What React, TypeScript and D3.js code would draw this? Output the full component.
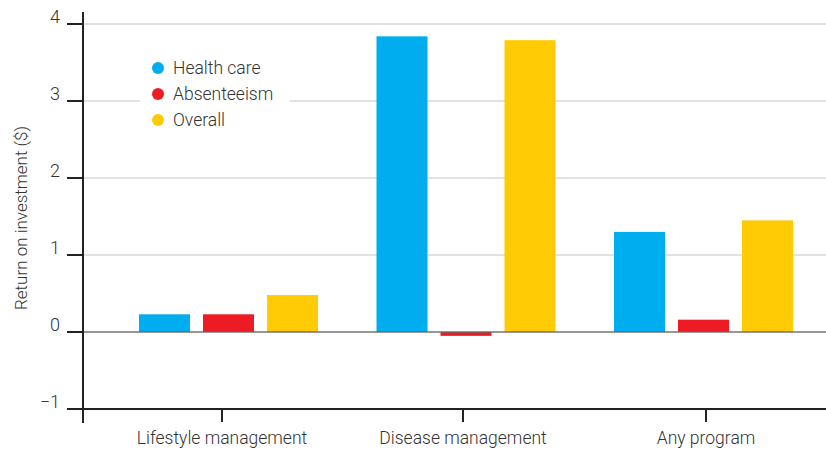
import React, { useEffect, useRef } from "react";
import * as d3 from "d3";

const categories = ["Lifestyle management", "Disease management", "Any program"];
const seriesNames = ["Health care", "Absenteeism", "Overall"];
const healthCare = [0.23, 3.84, 1.3];
const absenteeism = [0.23, -0.05, 0.16];
const overall = [0.48, 3.79, 1.45];
const yTicks = [-1, 0, 1, 2, 3, 4];
const colors = ["#00aeef", "#ed1c24", "#ffcb05"];

const App: React.FC = () => {
  const svgRef = useRef<SVGSVGElement>(null);

  useEffect(() => {
    if (!svgRef.current) return;
    const svg = d3.select(svgRef.current);
    svg.selectAll("*").remove();

    const width = 826;
    const font = "Roboto, 'Open Sans', sans-serif";
    const left = 83;
    const bottom = 409;

    const y = d3.scaleLinear().domain([-1, 4]).range([409, 24]);
    // group centres
    const x = d3.scalePoint().domain(categories).range([228.5, 703.5]);
    const inner = d3
      .scaleBand()
      .domain(seriesNames)
      .range([-89.5, 89.5])
      .paddingInner(13 / 64);
    const tickX = [222, 463, 706];

    const values = [healthCare, absenteeism, overall];

    // gridlines
    svg
      .append("g")
      .selectAll("line")
      .data(yTicks.filter((t) => t > 0))
      .enter()
      .append("line")
      .attr("x1", left)
      .attr("x2", width)
      .attr("y1", (d) => y(d))
      .attr("y2", (d) => y(d))
      .attr("stroke", "#c4c4c4")
      .attr("stroke-width", 1);

    // bars
    categories.forEach((c, ci) => {
      seriesNames.forEach((s, si) => {
        const v = values[si][ci];
        svg
          .append("rect")
          .attr("x", (x(c) || 0) + (inner(s) || 0))
          .attr("width", inner.bandwidth())
          .attr("y", y(Math.max(0, v)))
          .attr("height", Math.abs(y(v) - y(0)))
          .attr("fill", colors[si]);
      });
    });

    // zero line
    svg
      .append("line")
      .attr("x1", 67)
      .attr("x2", width)
      .attr("y1", y(0))
      .attr("y2", y(0))
      .attr("stroke", "#666")
      .attr("stroke-width", 1.5)
      .attr("opacity", 0.9);

    // axes
    svg
      .append("line")
      .attr("x1", left)
      .attr("x2", left)
      .attr("y1", 12)
      .attr("y2", 423)
      .attr("stroke", "#222")
      .attr("stroke-width", 2);
    svg
      .append("line")
      .attr("x1", 67)
      .attr("x2", width)
      .attr("y1", bottom)
      .attr("y2", bottom)
      .attr("stroke", "#222")
      .attr("stroke-width", 2);

    // y ticks
    const yt = svg.append("g").selectAll("g").data(yTicks).enter().append("g");
    yt.append("line")
      .attr("x1", 67)
      .attr("x2", left)
      .attr("y1", (d) => y(d))
      .attr("y2", (d) => y(d))
      .attr("stroke", "#222")
      .attr("stroke-width", 2);
    yt.append("text")
      .attr("x", 60)
      .attr("y", (d) => y(d))
      .attr("dy", "-0.05em")
      .attr("text-anchor", "end")
      .attr("font-family", font)
      .attr("font-size", 18)
      .attr("font-weight", 300)
      .attr("fill", "#333")
      .text((d) => (d < 0 ? "\u2212" + Math.abs(d) : String(d)));

    // x ticks
    svg
      .append("g")
      .selectAll("line")
      .data(tickX)
      .enter()
      .append("line")
      .attr("x1", (d) => d)
      .attr("x2", (d) => d)
      .attr("y1", bottom)
      .attr("y2", 422)
      .attr("stroke", "#222")
      .attr("stroke-width", 2);
    svg
      .append("g")
      .selectAll("text")
      .data(categories)
      .enter()
      .append("text")
      .attr("x", (d, i) => tickX[i])
      .attr("y", 444)
      .attr("text-anchor", "middle")
      .attr("font-family", font)
      .attr("font-size", 17.5)
      .attr("font-weight", 300)
      .attr("fill", "#333")
      .text((d) => d);

    // y label
    svg
      .append("text")
      .attr("transform", `translate(27, 218) rotate(-90)`)
      .attr("text-anchor", "middle")
      .attr("font-family", font)
      .attr("font-size", 17)
      .attr("font-weight", 300)
      .attr("fill", "#333")
      .text("Return on investment ($)");

    // legend
    const lg = svg.append("g");
    lg.append("rect").attr("x", 140).attr("y", 52).attr("width", 150).attr("height", 80).attr("fill", "#fff");
    const items = lg
      .selectAll("g")
      .data(seriesNames)
      .enter()
      .append("g")
      .attr("transform", (d, i) => `translate(158, ${68 + i * 26})`);
    items.append("circle").attr("r", 6).attr("fill", (d, i) => colors[i]);
    items
      .append("text")
      .attr("x", 15)
      .attr("dy", "0.35em")
      .attr("font-family", font)
      .attr("font-size", 17.5)
      .attr("font-weight", 300)
      .attr("fill", "#333")
      .text((d) => d);
  }, []);

  return (
    <svg
      ref={svgRef}
      width={826}
      height={449}
      style={{ position: "absolute", left: 0, top: 0, background: "#fff" }}
    />
  );
};

export default App;
